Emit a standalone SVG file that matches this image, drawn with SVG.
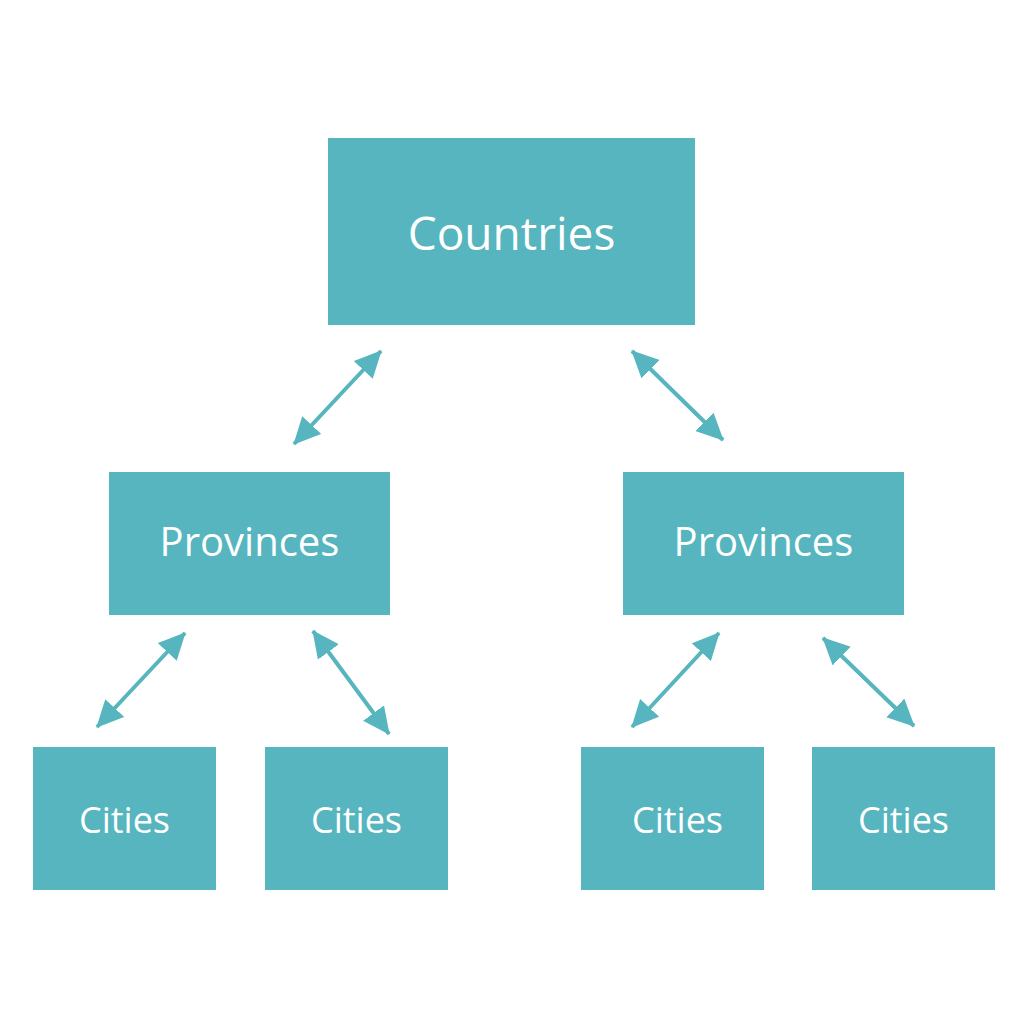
<svg xmlns="http://www.w3.org/2000/svg" width="1028" height="1028" viewBox="0 0 1028 1028">
<style>
.box{fill:#56B5BE}
.t{font-family:"Open Sans","Noto Sans",sans-serif;fill:#fff;text-anchor:middle}
.c{stroke:#56B5BE;stroke-width:4;fill:none;marker-start:url(#ah);marker-end:url(#ah)}
</style>
<defs>
<marker id="ah" markerUnits="userSpaceOnUse" markerWidth="30" markerHeight="28" refX="26" refY="13" orient="auto-start-reverse" viewBox="0 0 30 28">
<path d="M0,0 L27,13 L0,26 Z" fill="#56B5BE"/>
</marker>
</defs>
<rect width="1028" height="1028" fill="#fff"/>
<g id="countries"><rect class="box" x="328" y="138" width="367" height="187"/><text class="t" x="511.5" y="250" font-size="46">Countries</text></g>
<g id="provinces-left"><rect class="box" x="109" y="472" width="281" height="143"/><text class="t" x="249.5" y="556" font-size="40">Provinces</text></g>
<g id="provinces-right"><rect class="box" x="623" y="472" width="281" height="143"/><text class="t" x="763.5" y="556" font-size="40">Provinces</text></g>
<g id="cities-1"><rect class="box" x="33" y="747" width="183" height="143"/><text class="t" x="124.5" y="833" font-size="36">Cities</text></g>
<g id="cities-2"><rect class="box" x="265" y="747" width="183" height="143"/><text class="t" x="356.5" y="833" font-size="36">Cities</text></g>
<g id="cities-3"><rect class="box" x="581" y="747" width="183" height="143"/><text class="t" x="677.5" y="833" font-size="36">Cities</text></g>
<g id="cities-4"><rect class="box" x="812" y="747" width="183" height="143"/><text class="t" x="903.5" y="833" font-size="36">Cities</text></g>
<g id="connectors">
<line class="c" x1="381" y1="351" x2="294" y2="444"/>
<line class="c" x1="632" y1="351" x2="723" y2="440"/>
<line class="c" x1="185" y1="633" x2="97" y2="727"/>
<line class="c" x1="313" y1="631" x2="389" y2="734"/>
<line class="c" x1="719" y1="633" x2="632" y2="727"/>
<line class="c" x1="823" y1="638" x2="914" y2="726"/>
</g>
</svg>
